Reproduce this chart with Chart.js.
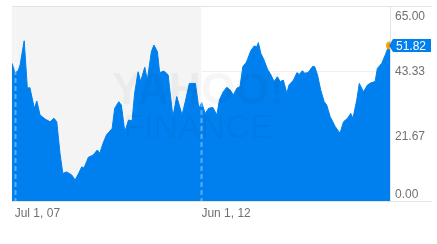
<!DOCTYPE html>
<html>
<head>
<meta charset="utf-8">
<script src="https://cdn.jsdelivr.net/npm/chart.js@4/dist/chart.umd.min.js"></script>
<style>
  html, body { margin: 0; padding: 0; background: #fff; }
  #wrap { width: 437px; height: 244px; position: relative; }
</style>
</head>
<body>
<div id="wrap"><canvas id="chart-price"></canvas></div>
<script>
// months counted from Jul 1, 07
const months = [-0.85, 0.1, 1.1, 1.7, 3.0, 4.0, 4.8, 6.2, 7.0, 8.0, 9.6, 11.2, 12.4, 13.3, 14.3, 15.2, 16.4, 18.0, 19.1, 20.1,
  21.2, 21.9, 23.3, 24.8, 26.1, 26.9, 27.9, 29.0, 30.8, 31.6, 32.9, 33.7, 34.8, 36.0, 37.1, 37.9, 39.0, 39.8, 41.1, 41.9,
  43.2, 44.0, 45.1, 45.8, 47.2, 48.5, 48.9, 50.0, 51.2, 52.9, 53.9, 55.2, 57.1, 58.2, 59.1, 60.2, 61.3, 62.6, 63.9, 64.7,
  65.9, 67.0, 68.1, 69.1, 70.2, 71.2, 72.1, 73.1, 73.5, 74.6, 75.7, 76.5, 77.0, 77.8, 78.8, 79.9, 80.9, 82.0, 83.0, 83.9,
  84.9, 86.0, 86.7, 88.1, 89.2, 89.9, 90.9, 91.7, 92.7, 94.1, 94.8, 95.7, 96.7, 97.8, 98.6, 99.7, 101.3, 102.8, 103.9, 105.2,
  106.2, 106.9, 108.1, 108.9, 110.2, 111.5, 112.6, 113.9, 114.6, 116.0, 117.1, 118.1, 118.6];
const prices = [45.9, 42.8, 43.4, 45.3, 53.4, 37.6, 37.8, 30.9, 33.3, 28.7, 27.3, 26.4, 27.6, 26.4, 16.0, 9.2, 9.7, 8.7, 7.0, 9.0,
  11.4, 11.0, 14.6, 15.3, 17.0, 15.9, 19.2, 22.0, 24.2, 30.9, 33.1, 32.0, 23.1, 27.0, 26.7, 35.9, 43.1, 39.8, 44.6, 40.3,
  49.8, 52.0, 49.8, 42.8, 43.3, 42.0, 38.1, 28.1, 34.8, 28.7, 33.1, 39.2, 39.2, 30.9, 32.8, 29.2, 30.9, 31.2, 28.7, 33.7,
  36.4, 37.9, 37.0, 35.3, 37.6, 38.1, 44.8, 46.1, 47.0, 50.1, 51.7, 51.4, 52.8, 49.2, 47.0, 43.9, 42.2, 39.8, 41.4, 39.8,
  40.3, 35.9, 38.7, 40.3, 42.8, 42.2, 43.4, 42.6, 42.8, 44.8, 44.8, 42.0, 37.0, 33.1, 32.0, 28.1, 24.8, 22.6, 26.4, 27.6,
  29.2, 27.6, 33.7, 39.2, 36.4, 38.7, 39.4, 39.8, 44.2, 45.9, 48.7, 51.4, 51.82];
const xTickMonths = [0, 59];
const xTickLabels = ['Jul 1, 07', 'Jun 1, 12'];
const yTicks = [0, 21.67, 43.33, 65];
const lastPrice = 51.82;

const BLUE = '#0080ee';
const FONT = '12px "Liberation Sans", Arial, sans-serif';

const decor = {
  id: 'decor',
  beforeDatasetsDraw(chart) {
    const { ctx, chartArea: a, scales: { x } } = chart;
    ctx.save();
    ctx.fillStyle = '#f4f4f4';
    ctx.fillRect(a.left, a.top, x.getPixelForValue(xTickMonths[1]) - a.left, a.bottom - a.top);
    ctx.restore();
  },
  afterDatasetsDraw(chart) {
    const { ctx, chartArea: a, scales: { x, y } } = chart;
    ctx.save();
    // watermark
    ctx.fillStyle = 'rgba(0,0,0,0.035)';
    ctx.textAlign = 'center';
    ctx.font = 'bold 44px "Liberation Sans", Arial, sans-serif';
    ctx.fillText('YAHOO!', 198, 104);
    ctx.font = '34px "Liberation Sans", Arial, sans-serif';
    ctx.fillText('FINANCE', 198, 138);
    // dashed markers
    ctx.strokeStyle = 'rgba(255,255,255,0.35)';
    ctx.lineWidth = 2;
    ctx.setLineDash([5, 3]);
    xTickMonths.forEach(m => {
      const px = Math.round(x.getPixelForValue(m)) + 0.5;
      ctx.beginPath();
      ctx.moveTo(px, a.top);
      ctx.lineTo(px, a.bottom);
      ctx.stroke();
    });
    ctx.setLineDash([]);
    // top / bottom rules
    ctx.strokeStyle = '#e3e3e3';
    ctx.lineWidth = 1;
    [y.getPixelForValue(65), y.getPixelForValue(0)].forEach(py => {
      py = Math.round(py) + 0.5;
      ctx.beginPath();
      ctx.moveTo(a.left, py);
      ctx.lineTo(432, py);
      ctx.stroke();
    });
    // right axis line
    ctx.beginPath();
    ctx.moveTo(a.right + 0.5, a.top);
    ctx.lineTo(a.right + 0.5, a.bottom);
    ctx.stroke();
    // y labels
    ctx.font = FONT;
    ctx.fillStyle = '#707070';
    ctx.textAlign = 'left';
    ctx.textBaseline = 'middle';
    yTicks.forEach(v => {
      let py = y.getPixelForValue(v);
      py = Math.min(Math.max(py + 1, a.top + 11), a.bottom - 6);
      ctx.fillText(v.toFixed(2), a.right + 5, py);
    });
    // last price badge
    const py = y.getPixelForValue(lastPrice);
    const bx = a.right + 3;
    ctx.fillStyle = BLUE;
    ctx.beginPath();
    ctx.moveTo(bx - 4, py);
    ctx.lineTo(bx, py - 6.5);
    ctx.lineTo(bx + 38, py - 6.5);
    ctx.lineTo(bx + 38, py + 6.5);
    ctx.lineTo(bx, py + 6.5);
    ctx.closePath();
    ctx.fill();
    ctx.fillStyle = '#fff';
    ctx.fillText(lastPrice.toFixed(2), bx + 3, py + 1);
    ctx.restore();
  }
};

new Chart(document.getElementById('chart-price'), {
  type: 'line',
  data: {
    datasets: [{
      data: months.map((m, i) => ({ x: m, y: prices[i] })),
      fill: 'origin',
      backgroundColor: BLUE,
      borderColor: BLUE,
      borderWidth: 1,
      tension: 0,
      pointRadius: c => c.dataIndex === prices.length - 1 ? 4 : 0,
      pointBackgroundColor: '#ffa200',
      pointBorderWidth: 0,
    }]
  },
  options: {
    responsive: true,
    maintainAspectRatio: false,
    animation: false,
    layout: { padding: { left: 12, top: 6, right: 0, bottom: 0 } },
    plugins: { legend: { display: false }, tooltip: { enabled: false } },
    scales: {
      x: {
        type: 'linear',
        min: months[0],
        max: months[months.length - 1],
        afterBuildTicks: s => { s.ticks = xTickMonths.map(v => ({ value: v })); },
        afterFit: s => { s.height = 43; },
        grid: { display: false, drawTicks: false },
        border: { display: false },
        ticks: {
          align: 'start',
          padding: 5,
          color: '#707070',
          font: { family: '"Liberation Sans", Arial, sans-serif', size: 12 },
          callback: (v) => xTickLabels[xTickMonths.indexOf(v)]
        }
      },
      y: {
        position: 'right',
        min: 0,
        max: 65,
        z: 1,
        afterBuildTicks: s => { s.ticks = yTicks.map(v => ({ value: v })); },
        afterFit: s => { s.width = 47; },
        border: { display: false },
        grid: {
          drawTicks: false,
          color: c => (c.tick && (c.tick.value === 0 || c.tick.value === 65)) ? 'rgba(0,0,0,0)' : 'rgba(0,0,0,0.06)'
        },
        ticks: { display: false }
      }
    }
  },
  plugins: [decor]
});
</script>
</body>
</html>
